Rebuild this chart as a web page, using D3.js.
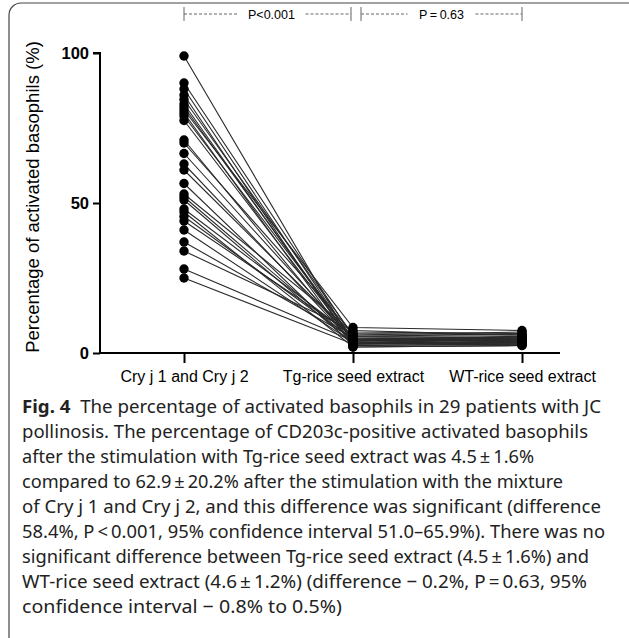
<!DOCTYPE html>
<html>
<head>
<meta charset="utf-8">
<script src="https://cdn.jsdelivr.net/npm/d3@7"></script>
<style>
  html, body { margin: 0; padding: 0; background: #fff; }
  svg { display: block; }
</style>
</head>
<body>
<svg id="chart" width="629" height="638"></svg>
<script>
// ---- data ----
const categories = ["Cry j 1 and Cry j 2", "Tg-rice seed extract", "WT-rice seed extract"];
const cryValues = [99, 90, 88, 86, 84.5, 83, 82, 81, 80, 79, 77.5, 71, 70, 66.5, 63, 61, 56.5, 53, 52, 51, 48, 47, 45.5, 44, 41, 37, 34, 28, 25];
const tgValues  = [3, 5.5, 4, 2.5, 6, 3.5, 4.5, 8.5, 2, 5, 4, 3, 6.5, 4.5, 3.5, 5, 2.5, 7, 4, 3, 5.5, 2, 4.5, 6, 3.5, 5, 7.5, 4, 3];
const wtValues  = [4, 5, 3.5, 3, 5.5, 4.5, 4, 7.5, 2.5, 4.5, 5, 3.5, 6, 4, 3, 4.5, 3, 6.5, 5, 4, 5, 2.5, 4, 7, 3.5, 4.5, 6, 5.5, 3];
const yTicks = [0, 50, 100];
const pLabels = ["P<0.001", "P\u2009=\u20090.63"];
const yTitle = "Percentage of activated basophils (%)";
const captionLines = [
  ["Fig. 4", "  The percentage of activated basophils in 29 patients with JC"],
  ["", "pollinosis. The percentage of CD203c-positive activated basophils"],
  ["", "after the stimulation with Tg-rice seed extract was 4.5\u2009\u00b1\u20091.6%"],
  ["", "compared to 62.9\u2009\u00b1\u200920.2% after the stimulation with the mixture"],
  ["", "of Cry j 1 and Cry j 2, and this difference was significant (difference"],
  ["", "58.4%, P\u2009<\u20090.001, 95% confidence interval 51.0\u201365.9%). There was no"],
  ["", "significant difference between Tg-rice seed extract (4.5\u2009\u00b1\u20091.6%) and"],
  ["", "WT-rice seed extract (4.6\u2009\u00b1\u20091.2%) (difference \u2212 0.2%, P\u2009=\u20090.63, 95%"],
  ["", "confidence interval \u2212 0.8% to 0.5%)"]
];
const captionWidths = [579, 566, 512, 541, 579, 583, 567, 565, 320];

const patients = cryValues.map((c, i) => ({ values: [c, tgValues[i], wtValues[i]] }));

// ---- layout ----
const svg = d3.select("#chart");
const chartFont = "'Liberation Sans', Arial, sans-serif";
const capFont = "'Noto Sans', 'Open Sans', sans-serif";

svg.append("rect")
  .attr("x", 9).attr("y", 3).attr("width", 660).attr("height", 660)
  .attr("rx", 12).attr("ry", 12)
  .attr("fill", "none").attr("stroke", "#444").attr("stroke-width", 1.2);

const x = d3.scalePoint().domain(categories).range([184, 522]);
const y = d3.scaleLinear().domain([0, 100]).range([353, 53]);

// lines
const g = svg.append("g");
g.selectAll("path.pl").data(patients).join("path")
  .attr("class", "pl")
  .attr("fill", "none")
  .attr("stroke", "#2a2a2a")
  .attr("stroke-width", 1.1)
  .attr("d", p => d3.line().x((v, j) => x(categories[j])).y(v => y(v))(p.values));

// points
categories.forEach((cat, j) => {
  g.selectAll("circle.c" + j).data(patients).join("circle")
    .attr("class", "c" + j)
    .attr("cx", x(cat))
    .attr("cy", p => y(p.values[j]))
    .attr("r", 4.7)
    .attr("fill", "#000");
});

// y axis
const yAxis = d3.axisLeft(y).tickValues(yTicks).tickSize(7).tickPadding(4);
const ya = svg.append("g").attr("transform", "translate(100,0)").call(yAxis);
ya.select(".domain").attr("stroke", "#000").attr("stroke-width", 2).attr("d", "M-7,53H0V353");
ya.selectAll(".tick line").attr("stroke", "#000").attr("stroke-width", 2);
ya.selectAll(".tick text").attr("font-family", chartFont).attr("font-weight", "bold").attr("font-size", 16.5).attr("fill", "#000");

// x axis
const xAxis = d3.axisBottom(x).tickSize(10).tickPadding(8);
const xa = svg.append("g").attr("transform", "translate(0,353)").call(xAxis);
xa.select(".domain").attr("stroke", "#000").attr("stroke-width", 2).attr("d", "M100,0H560");
xa.selectAll(".tick line").attr("stroke", "#000").attr("stroke-width", 2);
xa.selectAll(".tick text").attr("font-family", chartFont).attr("font-size", 16).attr("fill", "#000");

// y title
svg.append("text")
  .attr("transform", "translate(39,197) rotate(-90)")
  .attr("text-anchor", "middle")
  .attr("font-family", chartFont)
  .attr("font-size", 18.5)
  .attr("fill", "#000")
  .text(yTitle);

// p-value brackets
const pairs = [[0, 1], [1, 2]];
const by = 14;
pairs.forEach((pr, k) => {
  const x0 = x(categories[pr[0]]) + (k === 1 ? 8 : 0);
  const x1 = x(categories[pr[1]]) - (k === 0 ? 2 : 0);
  const xm = (x0 + x1) / 2 + (k === 0 ? 4 : 0);
  const gap = 34;
  const bg = svg.append("g").attr("stroke", "#666").attr("stroke-width", 1);
  bg.append("line").attr("x1", x0).attr("x2", x0).attr("y1", by - 7).attr("y2", by + 7);
  bg.append("line").attr("x1", x1).attr("x2", x1).attr("y1", by - 7).attr("y2", by + 7);
  bg.append("line").attr("x1", x0).attr("x2", xm - gap).attr("y1", by).attr("y2", by).attr("stroke-dasharray", "3,2");
  bg.append("line").attr("x1", xm + gap).attr("x2", x1).attr("y1", by).attr("y2", by).attr("stroke-dasharray", "3,2");
  svg.append("text").attr("x", xm).attr("y", by + 4.5)
    .attr("text-anchor", "middle")
    .attr("font-family", chartFont)
    .attr("font-size", 12.5).attr("fill", "#000")
    .text(pLabels[k]);
});

// caption
const cap = svg.append("g");
captionLines.forEach((ln, i) => {
  const t = cap.append("text")
    .attr("x", 22).attr("y", 413 + i * 25)
    .attr("font-family", capFont).attr("font-size", 18.5).attr("fill", "#222")
    .attr("textLength", captionWidths[i]).attr("lengthAdjust", "spacingAndGlyphs");
  if (ln[0]) t.append("tspan").attr("font-weight", "bold").text(ln[0]);
  t.append("tspan").attr("xml:space", "preserve").style("white-space", "pre").text(ln[1]);
});
</script>
</body>
</html>
